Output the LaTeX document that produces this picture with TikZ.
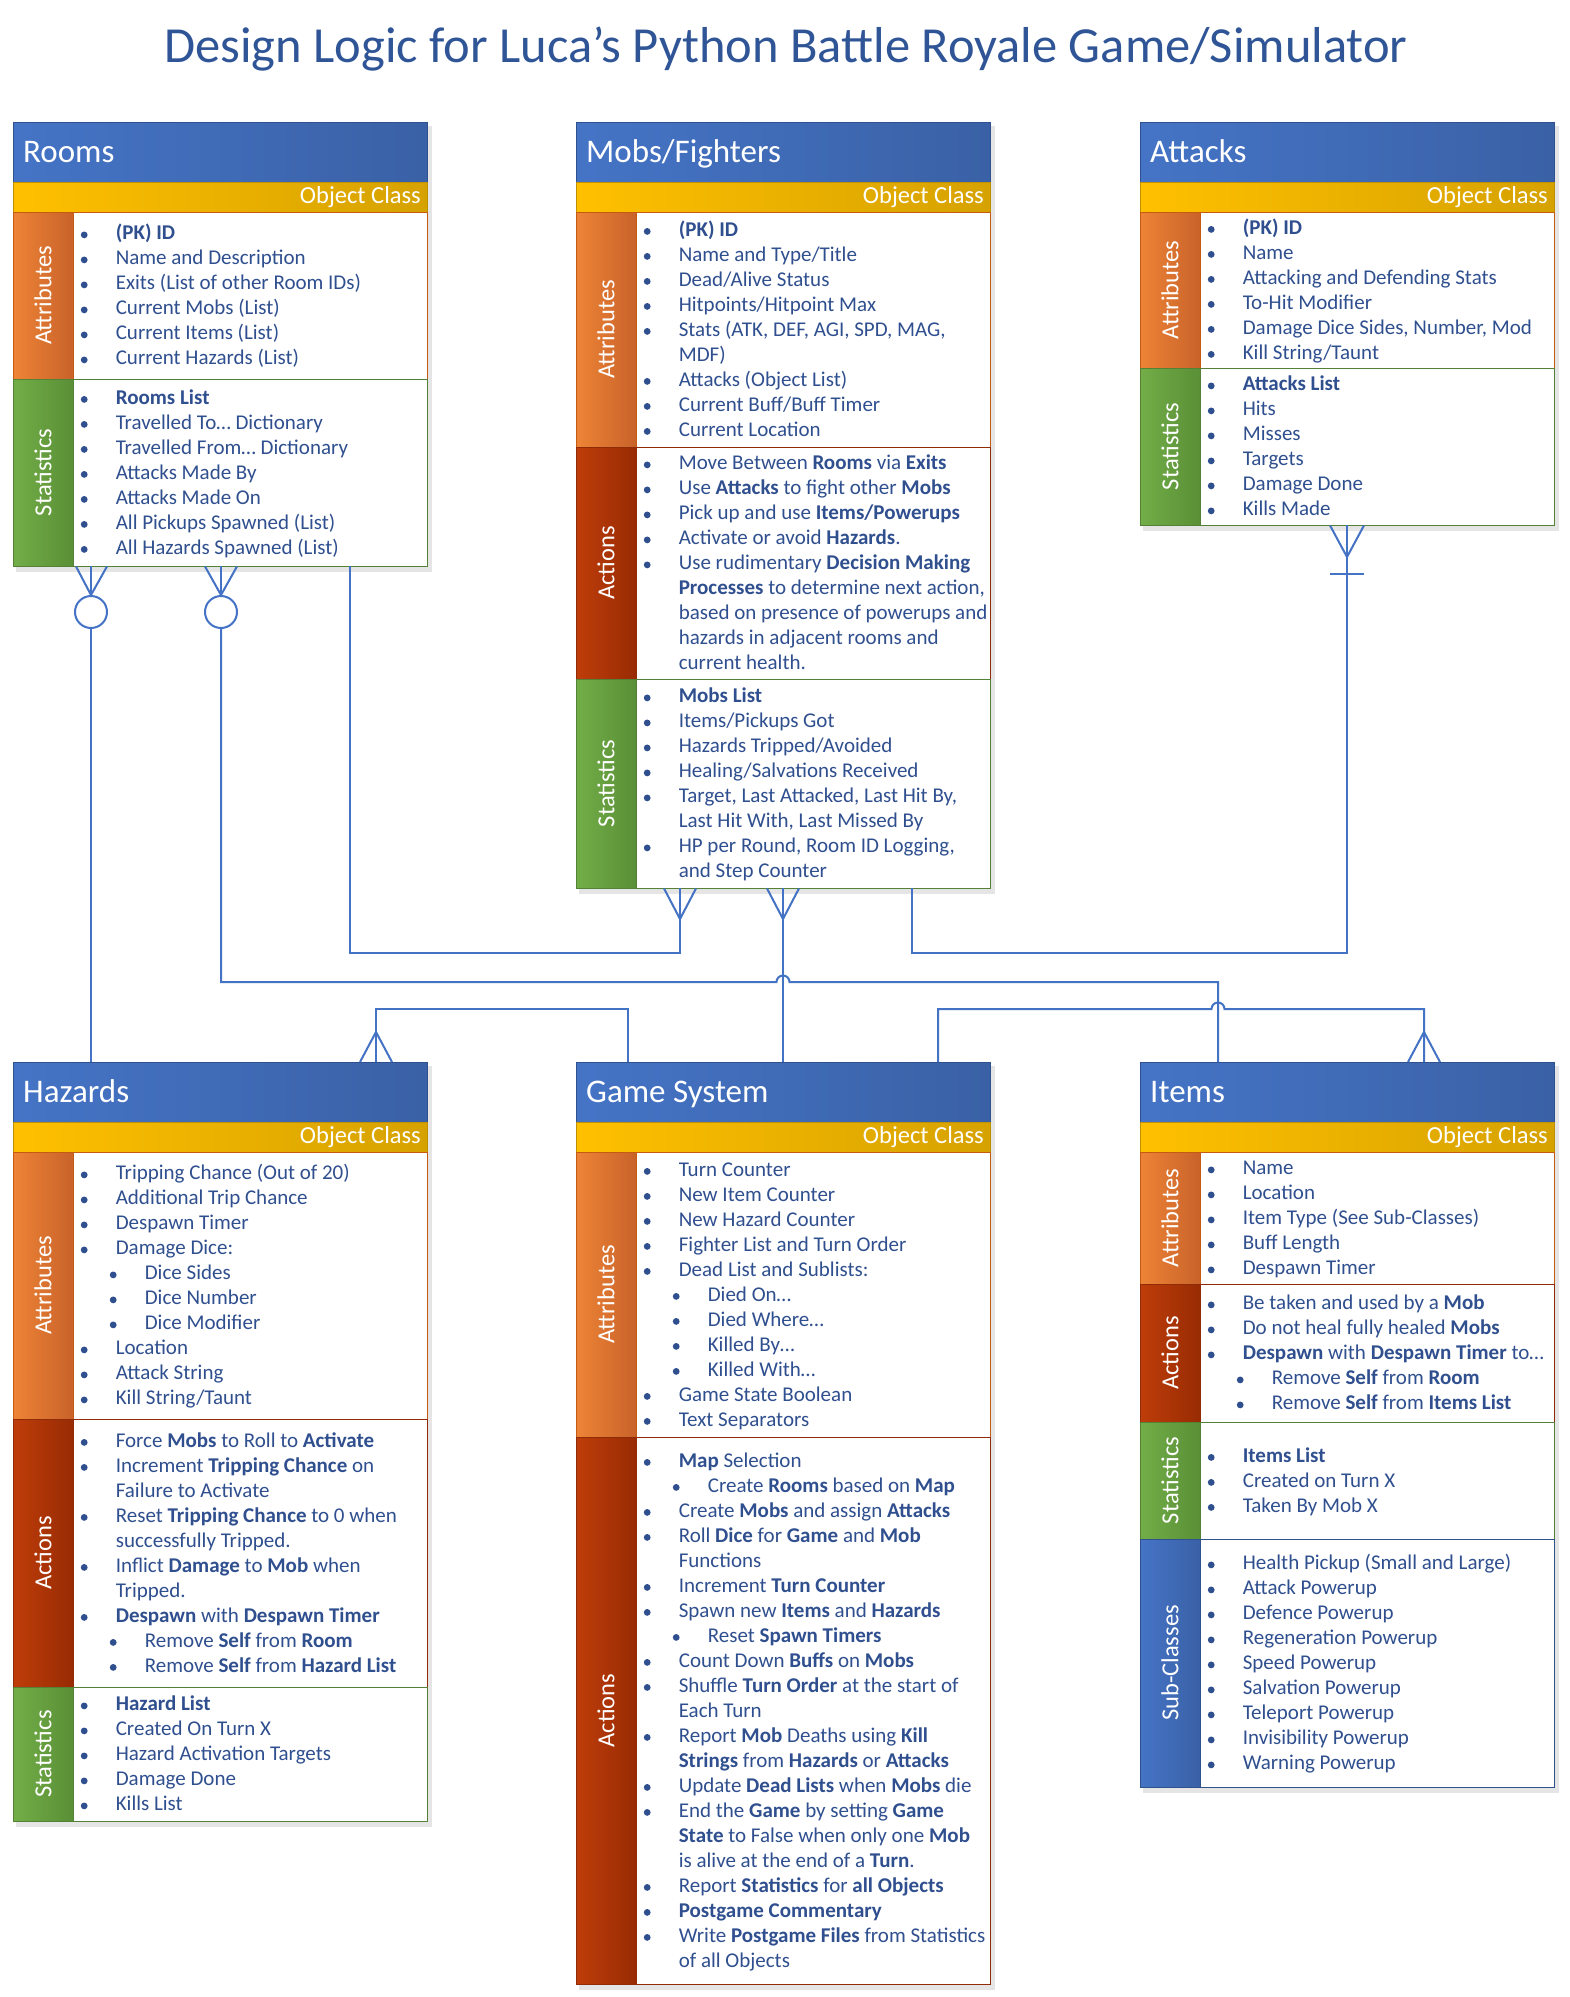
\documentclass[tikz,border=0pt]{standalone}
\usepackage{fontspec}
\setmainfont{Carlito}
\definecolor{txt}{HTML}{2F4F8F}
\definecolor{ttl}{HTML}{2F5597}
\definecolor{lnk}{HTML}{4472C4}
\definecolor{hdrL}{HTML}{4574C6}
\definecolor{hdrR}{HTML}{3A61A6}
\definecolor{hdrD}{HTML}{2F528F}
\definecolor{goldL}{HTML}{FFC000}
\definecolor{goldR}{HTML}{D6A200}
\definecolor{goldD}{HTML}{BF9000}
\definecolor{attL}{HTML}{EE8436}
\definecolor{attR}{HTML}{C8622A}
\definecolor{attD}{HTML}{C55A11}
\definecolor{actL}{HTML}{BF3D0A}
\definecolor{actR}{HTML}{982B03}
\definecolor{actD}{HTML}{8F2B06}
\definecolor{staL}{HTML}{72AE48}
\definecolor{staR}{HTML}{5A8F36}
\definecolor{staD}{HTML}{538135}
\definecolor{subL}{HTML}{4574C6}
\definecolor{subR}{HTML}{3A61A6}
\definecolor{subD}{HTML}{2F528F}

\newcommand\bdot{\tikz[baseline={(0pt,-4.9pt)}]\fill[txt] (0pt,0pt) circle[radius=3.4pt];}
\newcommand\lstrut{\rule[-7.7pt]{0pt}{25pt}}
\newcommand\bi[1]{\lstrut\makebox[35pt][l]{\bdot}#1}
\newcommand\bc[1]{\lstrut\hspace*{35pt}#1}
\newcommand\bs[1]{\lstrut\hspace*{29pt}\makebox[35pt][l]{\bdot}#1}

\tikzset{
  tablabel/.style={rotate=90, text=white, font=\fontsize{24.5}{28}\selectfont, inner sep=0pt},
  listnode/.style={anchor=west, align=left, inner sep=0pt, text=txt, font=\fontsize{21}{25}\selectfont},
  boxnode/.style={anchor=north west, minimum width=414pt, inner sep=0pt, draw=none},
  hdrtext/.style={anchor=base west, text=white, font=\fontsize{33}{36}\selectfont, inner sep=0pt},
  octext/.style={anchor=base east, text=white, font=\fontsize{24.5}{28}\selectfont, inner sep=0pt},
  link/.style={draw=lnk, line width=2pt},
  ringnode/.style={circle, draw=lnk, line width=2pt, minimum size=32pt, inner sep=0pt, fill=white},
}

\newcommand\classbox[5]{%
  \fill[black, opacity=0.10] (#2+3,#3+4) rectangle (#2+419,#4+6);
  \node[boxnode, minimum height={(#4-#3)*1pt}] (#1) at (#2,#3) {};
  \shade[left color=hdrL, right color=hdrR, draw=hdrD, line width=1pt] (#2,#3) rectangle (#2+414,#3+60);
  \node[hdrtext] (#1T) at (#2+10,#3+40) {#5};
  \shade[left color=goldL, right color=goldR, draw=goldD, line width=1pt] (#2,#3+60) rectangle (#2+414,#3+90);
  \node[octext] (#1O) at (#2+408,#3+81) {Object Class};
}
\newcommand\sect[7]{%
  \shade[left color=#5L, right color=#5R, draw=#5D, line width=1pt] (#2,#3) rectangle (#2+60,#4);
  \draw[#5D, line width=1pt, fill=white] (#2+60,#3) rectangle (#2+414,#4);
  \node[tablabel] (#1L) at (#2+30,{(#3+#4)/2}) {#6};
  \node[listnode] (#1) at (#2+67.6,{(#3+#4)/2+2}) {#7};
}

\begin{document}
\begin{tikzpicture}[x=1pt,y=-1pt]
\useasboundingbox (0,0) rectangle (1569,1997);
\fill[white] (0,0) rectangle (1569,1997);

\node[anchor=base, text=ttl, font=\fontsize{50.5}{58}\selectfont, inner sep=0pt] (title) at (786,62)
  {Design Logic for Luca’s Python Battle Royale Game/Simulator};

% ---------------- Rooms
\classbox{rooms}{13}{122}{566}{Rooms}
\sect{roomsA}{13}{212}{379}{att}{Attributes}{%
\bi{\textbf{(PK) ID}}\\
\bi{Name and Description}\\
\bi{Exits (List of other Room IDs)}\\
\bi{Current Mobs (List)}\\
\bi{Current Items (List)}\\
\bi{Current Hazards (List)}}
\sect{roomsS}{13}{379}{566}{sta}{Statistics}{%
\bi{\textbf{Rooms List}}\\
\bi{Travelled To… Dictionary}\\
\bi{Travelled From… Dictionary}\\
\bi{Attacks Made By}\\
\bi{Attacks Made On}\\
\bi{All Pickups Spawned (List)}\\
\bi{All Hazards Spawned (List)}}

% ---------------- Mobs
\classbox{mobs}{576}{122}{888}{Mobs/Fighters}
\sect{mobsA}{576}{212}{447}{att}{Attributes}{%
\bi{\textbf{(PK) ID}}\\
\bi{Name and Type/Title}\\
\bi{Dead/Alive Status}\\
\bi{Hitpoints/Hitpoint Max}\\
\bi{Stats (ATK, DEF, AGI, SPD, MAG,}\\
\bc{MDF)}\\
\bi{Attacks (Object List)}\\
\bi{Current Buff/Buff Timer}\\
\bi{Current Location}}
\sect{mobsX}{576}{447}{679}{act}{Actions}{%
\bi{Move Between \textbf{Rooms} via \textbf{Exits}}\\
\bi{Use \textbf{Attacks} to fight other \textbf{Mobs}}\\
\bi{Pick up and use \textbf{Items/Powerups}}\\
\bi{Activate or avoid \textbf{Hazards}.}\\
\bi{Use rudimentary \textbf{Decision Making}}\\
\bc{\textbf{Processes} to determine next action,}\\
\bc{based on presence of powerups and}\\
\bc{hazards in adjacent rooms and}\\
\bc{current health.}}
\sect{mobsS}{576}{679}{888}{sta}{Statistics}{%
\bi{\textbf{Mobs List}}\\
\bi{Items/Pickups Got}\\
\bi{Hazards Tripped/Avoided}\\
\bi{Healing/Salvations Received}\\
\bi{Target, Last Attacked, Last Hit By,}\\
\bc{Last Hit With, Last Missed By}\\
\bi{HP per Round, Room ID Logging,}\\
\bc{and Step Counter}}

% ---------------- Attacks
\classbox{attacks}{1140}{122}{525}{Attacks}
\sect{attacksA}{1140}{212}{368}{att}{Attributes}{%
\bi{\textbf{(PK) ID}}\\
\bi{Name}\\
\bi{Attacking and Defending Stats}\\
\bi{To-Hit Modifier}\\
\bi{Damage Dice Sides, Number, Mod}\\
\bi{Kill String/Taunt}}
\sect{attacksS}{1140}{368}{525}{sta}{Statistics}{%
\bi{\textbf{Attacks List}}\\
\bi{Hits}\\
\bi{Misses}\\
\bi{Targets}\\
\bi{Damage Done}\\
\bi{Kills Made}}

% ---------------- Hazards
\classbox{hazards}{13}{1062}{1821}{Hazards}
\sect{hazA}{13}{1152}{1419}{att}{Attributes}{%
\bi{Tripping Chance (Out of 20)}\\
\bi{Additional Trip Chance}\\
\bi{Despawn Timer}\\
\bi{Damage Dice:}\\
\bs{Dice Sides}\\
\bs{Dice Number}\\
\bs{Dice Modifier}\\
\bi{Location}\\
\bi{Attack String}\\
\bi{Kill String/Taunt}}
\sect{hazX}{13}{1419}{1687}{act}{Actions}{%
\bi{Force \textbf{Mobs} to Roll to \textbf{Activate}}\\
\bi{Increment \textbf{Tripping Chance} on}\\
\bc{Failure to Activate}\\
\bi{Reset \textbf{Tripping Chance} to 0 when}\\
\bc{successfully Tripped.}\\
\bi{Inflict \textbf{Damage} to \textbf{Mob} when}\\
\bc{Tripped.}\\
\bi{\textbf{Despawn} with \textbf{Despawn Timer}}\\
\bs{Remove \textbf{Self} from \textbf{Room}}\\
\bs{Remove \textbf{Self} from \textbf{Hazard List}}}
\sect{hazS}{13}{1687}{1821}{sta}{Statistics}{%
\bi{\textbf{Hazard List}}\\
\bi{Created On Turn X}\\
\bi{Hazard Activation Targets}\\
\bi{Damage Done}\\
\bi{Kills List}}

% ---------------- Game System
\classbox{game}{576}{1062}{1984}{Game System}
\sect{gameA}{576}{1152}{1437}{att}{Attributes}{%
\bi{Turn Counter}\\
\bi{New Item Counter}\\
\bi{New Hazard Counter}\\
\bi{Fighter List and Turn Order}\\
\bi{Dead List and Sublists:}\\
\bs{Died On…}\\
\bs{Died Where…}\\
\bs{Killed By…}\\
\bs{Killed With…}\\
\bi{Game State Boolean}\\
\bi{Text Separators}}
\sect{gameX}{576}{1437}{1984}{act}{Actions}{%
\bi{\textbf{Map} Selection}\\
\bs{Create \textbf{Rooms} based on \textbf{Map}}\\
\bi{Create \textbf{Mobs} and assign \textbf{Attacks}}\\
\bi{Roll \textbf{Dice} for \textbf{Game} and \textbf{Mob}}\\
\bc{Functions}\\
\bi{Increment \textbf{Turn Counter}}\\
\bi{Spawn new \textbf{Items} and \textbf{Hazards}}\\
\bs{Reset \textbf{Spawn Timers}}\\
\bi{Count Down \textbf{Buffs} on \textbf{Mobs}}\\
\bi{Shuffle \textbf{Turn Order} at the start of}\\
\bc{Each Turn}\\
\bi{Report \textbf{Mob} Deaths using \textbf{Kill}}\\
\bc{\textbf{Strings} from \textbf{Hazards} or \textbf{Attacks}}\\
\bi{Update \textbf{Dead Lists} when \textbf{Mobs} die}\\
\bi{End the \textbf{Game} by setting \textbf{Game}}\\
\bc{\textbf{State} to False when only one \textbf{Mob}}\\
\bc{is alive at the end of a \textbf{Turn}.}\\
\bi{Report \textbf{Statistics} for \textbf{all Objects}}\\
\bi{\textbf{Postgame Commentary}}\\
\bi{Write \textbf{Postgame Files} from Statistics}\\
\bc{of all Objects}}

% ---------------- Items
\classbox{items}{1140}{1062}{1787}{Items}
\sect{itemsA}{1140}{1152}{1284}{att}{Attributes}{%
\bi{Name}\\
\bi{Location}\\
\bi{Item Type (See Sub-Classes)}\\
\bi{Buff Length}\\
\bi{Despawn Timer}}
\sect{itemsX}{1140}{1284}{1422}{act}{Actions}{%
\bi{Be taken and used by a \textbf{Mob}}\\
\bi{Do not heal fully healed \textbf{Mobs}}\\
\bi{\textbf{Despawn} with \textbf{Despawn Timer} to…}\\
\bs{Remove \textbf{Self} from \textbf{Room}}\\
\bs{Remove \textbf{Self} from \textbf{Items List}}}
\sect{itemsS}{1140}{1422}{1539}{sta}{Statistics}{%
\bi{\textbf{Items List}}\\
\bi{Created on Turn X}\\
\bi{Taken By Mob X}}
\sect{itemsC}{1140}{1539}{1787}{sub}{Sub-Classes}{%
\bi{Health Pickup (Small and Large)}\\
\bi{Attack Powerup}\\
\bi{Defence Powerup}\\
\bi{Regeneration Powerup}\\
\bi{Speed Powerup}\\
\bi{Salvation Powerup}\\
\bi{Teleport Powerup}\\
\bi{Invisibility Powerup}\\
\bi{Warning Powerup}}

% ---------------- Connectors
% Rooms -> Hazards (zero or many at Rooms)
\node[ringnode] (ring1) at (91,612) {};
\draw[link] ([xshift=63pt]rooms.south west) -- (ring1.north) -- ([xshift=94pt]rooms.south west);
\draw[link] ([xshift=78pt]rooms.south west) -- (ring1.north);
\draw[link] (ring1.south) -- ([xshift=78pt]hazards.north west);

% Rooms -> Items (zero or many at Rooms)
\node[ringnode] (ring2) at (221,612) {};
\draw[link] ([xshift=192pt]rooms.south west) -- (ring2.north) -- ([xshift=224pt]rooms.south west);
\draw[link] ([xshift=208pt]rooms.south west) -- (ring2.north);
\draw[link] (ring2.south) -- (221,982) -- (776.5,982) arc[start angle=180, end angle=360, radius=6.5]
  -- (1218,982) -- ([xshift=78pt]items.north west);

% Rooms -> Mobs (many at Mobs)
\draw[link] ([xshift=337pt]rooms.south west) -- (350,953) -- (680,953) -- ([xshift=104pt]mobs.south west);
\draw[link] ([xshift=88pt]mobs.south west) -- (680,919) -- ([xshift=120pt]mobs.south west);

% Mobs -> Game System (many at Mobs)
\draw[link] ([xshift=207pt]mobs.south west) -- ([xshift=207pt]game.north west);
\draw[link] ([xshift=191pt]mobs.south west) -- (783,919) -- ([xshift=223pt]mobs.south west);

% Mobs -> Attacks (one or many at Attacks)
\draw[link] ([xshift=336pt]mobs.south west) -- (912,953) -- (1347,953) -- ([xshift=207pt]attacks.south west);
\draw[link] ([xshift=190pt]attacks.south west) -- (1347,557) -- ([xshift=224pt]attacks.south west);
\draw[link] (1330,574) -- (1364,574);

% Game System -> Hazards (many at Hazards)
\draw[link] ([xshift=52pt]game.north west) -- (628,1009) -- (376,1009) -- ([xshift=363pt]hazards.north west);
\draw[link] ([xshift=347pt]hazards.north west) -- (376,1032) -- ([xshift=379pt]hazards.north west);

% Game System -> Items (many at Items)
\draw[link] ([xshift=362pt]game.north west) -- (938,1009) -- (1211.5,1009) arc[start angle=180, end angle=360, radius=6.5]
  -- (1424,1009) -- ([xshift=284pt]items.north west);
\draw[link] ([xshift=268pt]items.north west) -- (1424,1032) -- ([xshift=300pt]items.north west);
\end{tikzpicture}
\end{document}
